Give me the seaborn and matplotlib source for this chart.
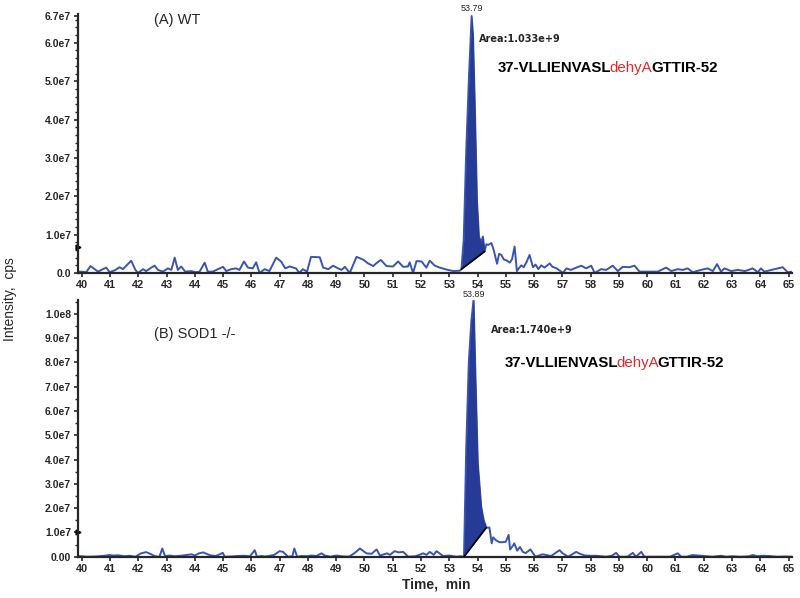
import numpy as np
import matplotlib
matplotlib.use("Agg")
import matplotlib.pyplot as plt
import seaborn as sns

# chromatogram traces, time in min, intensity in units of 1e6 cps
wt_time = [39.87, 39.99, 40.16, 40.31, 40.46, 40.58, 40.75, 40.87, 40.99, 41.17,
           41.34, 41.46, 41.75, 41.90, 41.99, 42.17, 42.28, 42.46, 42.58, 42.70,
           42.87, 43.05, 43.17, 43.29, 43.40, 43.52, 43.66, 43.87, 44.05, 44.17,
           44.35, 44.46, 44.64, 44.82, 45.00, 45.11, 45.29, 45.46, 45.58, 45.74,
           45.88, 46.05, 46.17, 46.29, 46.47, 46.64, 46.88, 47.05, 47.20, 47.35,
           47.58, 47.70, 47.82, 47.97, 48.11, 48.42, 48.54, 48.72, 48.89, 49.07,
           49.19, 49.31, 49.48, 49.72, 49.95, 50.13, 50.31, 50.43, 50.58, 50.78,
           51.01, 51.19, 51.37, 51.54, 51.60, 51.72, 51.84, 52.02, 52.19, 52.31,
           52.49, 52.66, 52.90, 53.14, 53.37, 53.43, 53.51, 53.60, 53.69, 53.79,
           53.84, 53.90, 53.98, 54.05, 54.12, 54.19, 54.25, 54.31, 54.37, 54.49,
           54.57, 54.69, 54.76, 54.84, 54.93, 55.02, 55.14, 55.22, 55.31, 55.39,
           55.47, 55.55, 55.63, 55.73, 55.84, 55.96, 56.05, 56.15, 56.25, 56.37,
           56.55, 56.65, 56.80, 57.02, 57.14, 57.30, 57.49, 57.67, 57.84, 58.02,
           58.14, 58.37, 58.55, 58.78, 58.96, 59.14, 59.37, 59.55, 59.73, 59.90,
           60.14, 60.37, 60.67, 60.85, 61.08, 61.26, 61.43, 61.61, 61.90, 62.14,
           62.32, 62.47, 62.61, 62.73, 62.97, 63.20, 63.46, 63.73, 63.91, 64.02,
           64.14, 64.50, 64.79, 64.97, 65.15]
wt_int = [0.35, 0.35, 0.2, 1.8, 1.0, 0.35, 1.0, 1.4, 0.2, 0.7,
          1.5, 1.0, 3.2, 0.8, 0.0, 1.0, 0.5, 1.4, 1.9, 0.8,
          0.35, 1.2, 0.8, 4.0, 0.8, 1.7, 0.35, 0.5, 0.2, 0.35,
          2.7, 0.35, 0.35, 1.0, 1.6, 0.5, 1.0, 1.2, 0.8, 3.0,
          1.4, 1.2, 2.8, 0.0, 1.0, 0.5, 4.0, 3.0, 1.2, 1.7,
          1.2, 0.0, 1.0, 0.35, 4.2, 4.1, 1.4, 1.0, 1.9, 1.2,
          0.8, 1.6, 0.0, 4.2, 3.5, 2.5, 1.8, 2.6, 3.4, 1.8,
          1.7, 3.0, 1.6, 1.7, 2.8, 0.0, 3.1, 3.0, 1.4, 3.2,
          1.9, 1.4, 0.9, 0.5, 0.6, 1.0, 8.6, 32.0, 50.0, 67.0,
          62.0, 45.0, 19.0, 9.5, 8.0, 9.5, 5.6, 7.5, 7.3, 7.8,
          6.0, 2.4, 5.0, 4.7, 3.5, 3.3, 2.7, 3.6, 6.9, 0.5,
          1.3, 2.0, 1.5, 2.8, 4.7, 1.5, 2.2, 1.0, 2.0, 1.4,
          2.5, 1.6, 1.2, 0.0, 1.2, 0.8, 1.4, 1.9, 1.2, 1.9,
          0.0, 1.0, 0.8, 1.9, 0.5, 1.6, 1.5, 1.9, 0.35, 0.35,
          0.35, 0.35, 1.4, 0.5, 1.0, 0.8, 1.2, 0.2, 0.8, 1.2,
          0.5, 2.3, 0.35, 1.2, 0.5, 0.8, 0.5, 1.2, 0.2, 1.2,
          0.35, 1.0, 1.5, 0.2, 0.35]

ko_time = [39.87, 40.20, 40.50, 40.80, 40.99, 41.10, 41.30, 41.50, 41.70, 41.90,
           42.10, 42.28, 42.46, 42.60, 42.75, 42.85, 42.95, 43.10, 43.30, 43.50,
           43.70, 43.89, 44.00, 44.15, 44.30, 44.45, 44.58, 44.75, 44.99, 45.06,
           45.30, 45.50, 45.75, 45.95, 46.12, 46.20, 46.35, 46.50, 46.80, 47.00,
           47.12, 47.30, 47.45, 47.52, 47.62, 47.77, 48.00, 48.10, 48.30, 48.48,
           48.60, 48.80, 49.00, 49.20, 49.45, 49.65, 49.84, 50.07, 50.25, 50.43,
           50.55, 50.80, 50.90, 51.07, 51.20, 51.37, 51.55, 51.80, 51.95, 52.07,
           52.20, 52.31, 52.45, 52.55, 52.78, 53.00, 53.25, 53.40, 53.52, 53.60,
           53.69, 53.78, 53.86, 53.93, 54.01, 54.13, 54.22, 54.31, 54.42, 54.50,
           54.55, 54.65, 54.77, 54.90, 55.00, 55.10, 55.15, 55.25, 55.30, 55.40,
           55.50, 55.60, 55.70, 55.87, 56.05, 56.30, 56.60, 56.90, 57.00, 57.20,
           57.49, 57.60, 57.80, 58.00, 58.20, 58.55, 58.75, 58.90, 59.02, 59.30,
           59.49, 59.60, 59.79, 59.90, 60.10, 60.37, 60.80, 60.90, 61.08, 61.20,
           61.40, 61.60, 61.90, 62.10, 62.30, 62.61, 62.80, 63.00, 63.30, 63.60,
           63.73, 63.90, 64.10, 64.30, 64.60, 64.90, 65.15]
ko_int = [0.3, 0.0, 0.1, 0.4, 0.7, 0.5, 0.6, 0.2, 0.4, 0.0,
          1.4, 1.9, 1.0, 0.2, 0.0, 3.4, 0.2, 0.5, 0.2, 0.4,
          0.7, 1.0, 0.5, 1.4, 1.8, 1.0, 0.5, 0.3, 1.6, 0.0,
          0.1, 0.3, 0.4, 0.2, 2.7, 0.0, 0.3, 0.1, 0.7, 2.3,
          2.0, 0.0, 0.2, 3.4, 0.0, 0.3, 0.2, 0.5, 0.3, 1.4,
          0.5, 0.0, 0.5, 0.2, 0.0, 1.5, 3.4, 1.4, 1.2, 3.0,
          0.5, 1.4, 0.8, 2.3, 1.8, 2.0, 0.0, 0.2, 0.8, 1.4,
          0.8, 2.0, 0.8, 2.3, 0.3, 0.5, 0.0, 0.2, 0.0, 45.0,
          80.0, 97.0, 106.0, 73.0, 38.5, 20.6, 15.0, 12.0, 12.0, 5.5,
          8.0, 6.8, 6.0, 6.0, 6.2, 9.0, 3.0, 4.5, 5.5, 2.5,
          4.0, 2.0, 1.5, 3.0, 0.0, 1.0, 0.3, 2.7, 1.5, 0.0,
          2.0, 1.3, 0.5, 0.4, 0.4, 0.0, 0.4, 1.6, 0.0, 0.0,
          1.6, 0.0, 2.0, 0.0, 0.0, 0.0, 0.0, 0.5, 1.4, 0.0,
          0.0, 0.7, 0.4, 0.2, 0.0, 0.4, 0.0, 0.2, 0.0, 0.2,
          0.7, 0.2, 0.4, 0.3, 0.0, 0.1, 0.0]

panels = [
    dict(time=wt_time, inten=wt_int, label="(A) WT", rt="53.79", area="Area:1.033e+9",
         window=(53.43, 54.25), ymax=6.75e7, marker=6.8e6,
         yticks=[0, 1e7, 2e7, 3e7, 4e7, 5e7, 6e7, 6.7e7],
         ylabels=["0.0", "1.0e7", "2.0e7", "3.0e7", "4.0e7", "5.0e7", "6.0e7", "6.7e7"]),
    dict(time=ko_time, inten=ko_int, label="(B) SOD1 -/-", rt="53.89", area="Area:1.740e+9",
         window=(53.52, 54.31), ymax=1.056e8, marker=1.03e7,
         yticks=[0, 1e7, 2e7, 3e7, 4e7, 5e7, 6e7, 7e7, 8e7, 9e7, 1e8],
         ylabels=["0.00", "1.0e7", "2.0e7", "3.0e7", "4.0e7", "5.0e7", "6.0e7",
                  "7.0e7", "8.0e7", "9.0e7", "1.0e8"]),
]
peptide = [("37-VLLIENVASL", "black", "bold"), ("dehyA", "#e8262a", "normal"),
           ("GTTIR-52", "black", "bold")]

sns.set_style("ticks")
plt.rcParams['font.family'] = ['Liberation Sans', 'DejaVu Sans']

line_c = "#3a55b0"
fill_c = "#263b96"

fig = plt.figure(figsize=(8, 5.98), dpi=100)
ax_a = fig.add_axes([0.0975, 0.5435, 0.8925, 0.433])
ax_b = fig.add_axes([0.0975, 0.069, 0.8925, 0.429])

# text placement (axes fraction) for each panel
txt_pos = [dict(lab=(0.106, 1.005), rt_y=1.005, area=(0.562, 0.905), pep=(0.588, 0.79)),
           dict(lab=(0.106, 0.896), rt_y=1.006, area=(0.578, 0.885), pep=(0.597, 0.755))]

renderer = fig.canvas.get_renderer()
for ax, p, tp in zip([ax_a, ax_b], panels, txt_pos):
    t = np.array(p["time"])
    y = np.array(p["inten"]) * 1e6
    sns.lineplot(x=t, y=y, ax=ax, color=line_c, lw=1.4, estimator=None, sort=False)

    # integrated peak area
    t0, t1 = p["window"]
    y0, y1 = np.interp([t0, t1], t, y)
    m = (t >= t0) & (t <= t1)
    tt = np.concatenate([[t0], t[m], [t1]])
    yy = np.concatenate([[y0], y[m], [y1]])
    base = y0 + (tt - t0) / (t1 - t0) * (y1 - y0)
    ax.fill_between(tt, base, yy, color=fill_c, lw=0, zorder=3)
    ax.plot([t0, t1], [y0, y1], color="black", lw=1.2, zorder=4)

    ax.set_xlim(39.87, 65.12)
    ax.set_ylim(0, p["ymax"])
    ax.set_xticks(range(40, 66))
    ax.set_yticks(p["yticks"])
    ax.set_yticklabels(p["ylabels"])
    ax.yaxis.set_minor_locator(matplotlib.ticker.MultipleLocator(2e6 if p["ymax"] < 8e7 else 5e6))
    ax.tick_params(axis="both", labelsize=7.5, width=1.2, length=3, pad=2)
    ax.tick_params(axis="x", labelsize=7.8)
    ax.tick_params(axis="y", which="minor", length=2, width=1)
    for lb in ax.get_xticklabels() + ax.get_yticklabels():
        lb.set_fontweight("bold")
    for s in ["left", "bottom"]:
        ax.spines[s].set_linewidth(1.6)
    sns.despine(ax=ax)
    ax.set_xlabel("")
    ax.set_ylabel("")

    ax.plot([0], [p["marker"]], marker=">", color="black", ms=3.5, clip_on=False,
            transform=matplotlib.transforms.blended_transform_factory(ax.transAxes, ax.transData))

    ax.text(*tp["lab"], p["label"], transform=ax.transAxes, fontsize=10.5, va="top")
    rt_x = t[np.argmax(y)]
    ax.text(rt_x, tp["rt_y"], p["rt"], fontsize=6.5, ha="center", va="bottom",
            transform=matplotlib.transforms.blended_transform_factory(ax.transData, ax.transAxes))
    ax.text(*tp["area"], p["area"], transform=ax.transAxes, fontsize=7, fontweight="bold",
            va="center", family="DejaVu Sans")

    # peptide sequence with highlighted residue
    x = tp["pep"][0]
    ax_w = ax.get_window_extent(renderer=renderer).width
    for seg, col, wt in peptide:
        tx = ax.text(x, tp["pep"][1], seg, transform=ax.transAxes, fontsize=10.8,
                     color=col, fontweight=wt, va="center")
        bb = tx.get_window_extent(renderer=renderer)
        x += (bb.width - 1.5) / ax_w

fig.text(0.013, 0.5, "Intensity,  cps", rotation=90, va="center", ha="center",
         fontsize=10)
fig.text(0.545, 0.022, "Time,  min", ha="center", va="center", fontsize=10, fontweight="bold")

fig.savefig("out.png", dpi=100)
